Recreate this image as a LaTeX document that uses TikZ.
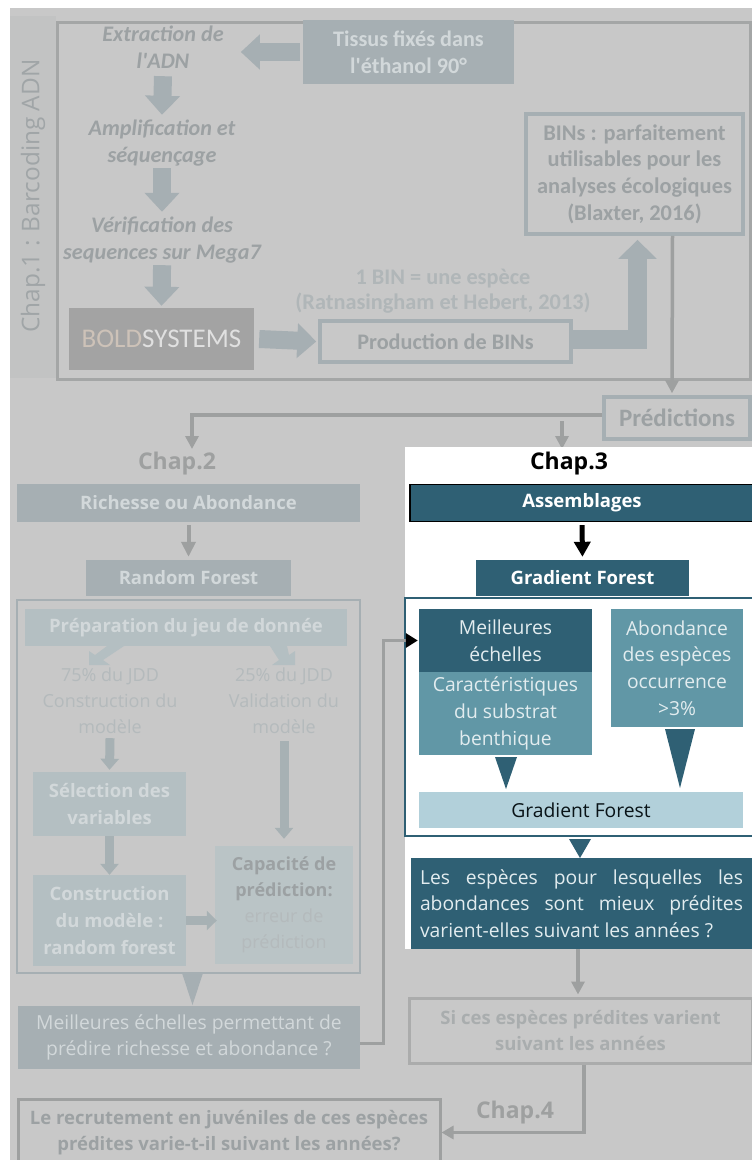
\documentclass[tikz,border=0pt]{standalone}
\usepackage{fontspec}
\setmainfont{Open Sans}
\newfontfamily\calibri{Carlito}
\usetikzlibrary{arrows.meta,positioning,calc}

\definecolor{pagegrey}{HTML}{C8C8C8}
\definecolor{sidegrey}{HTML}{C2C3C3}
\definecolor{slate}{HTML}{A6AFB3}
\definecolor{paleslate}{HTML}{B4BFC2}
\definecolor{palerslate}{HTML}{BAC4C6}
\definecolor{slatetext}{HTML}{D2D8DA}
\definecolor{fadetext}{HTML}{9CA1A3}
\definecolor{lighttext}{HTML}{B4BABC}
\definecolor{lineg}{HTML}{9EA0A0}
\definecolor{deepteal}{HTML}{2F6074}
\definecolor{midteal}{HTML}{6197A6}
\definecolor{lightteal}{HTML}{B2D0DA}
\definecolor{tealtext}{HTML}{E2ECEF}

\tikzset{
    tbox/.style={inner sep=0pt, align=center},
    upper/.style={font=\calibri\bfseries\fontsize{22.2}{26.6}\selectfont},
    upperit/.style={font=\calibri\bfseries\itshape\fontsize{22.2}{27}\selectfont, text=fadetext},
    lower/.style={font=\fontsize{19.3}{26.6}\selectfont},
    lowers/.style={font=\fontsize{18}{26}\selectfont},
    lowerb/.style={font=\bfseries\fontsize{18.5}{26.6}\selectfont},
    chaptitle/.style={font=\bfseries\fontsize{23}{26}\selectfont, inner sep=0pt},
    slatebox/.style={tbox, fill=slate, text=slatetext},
    palebox/.style={tbox, fill=paleslate, text=slatetext},
    rimbox/.style={tbox, draw=slate, line width=3.5pt, text=fadetext},
    tealbox/.style={tbox, fill=deepteal, text=tealtext},
    fatarrow/.style={-{Triangle[length=19pt,width=34pt]}, line width=18pt, draw=slate},
    midarrow/.style={-{Triangle[length=11pt,width=18pt]}, line width=9pt, draw=slate!90!paleslate},
    linearrow/.style={-{Triangle[length=13pt,width=13pt]}, line width=3.5pt, draw=lineg}
}

\begin{document}
\begin{tikzpicture}[x=1pt,y=-1pt]
    \useasboundingbox (0,0) rectangle (752,1160);
    % Page background
    \fill[white] (0,0) rectangle (752,1160);
    \fill[pagegrey] (10,8) rectangle (752,447);
    \fill[pagegrey] (10,447) rectangle (405,1160);
    \fill[pagegrey] (405,949) rectangle (752,1160);

    % Chap.1
    \node[tbox, fill=sidegrey, minimum width=46pt, minimum height=362pt] (chapun) at (33,197) {};
    \node[rotate=90, text=fadetext!90!pagegrey, font=\fontsize{24.4}{28}\selectfont, inner sep=0pt] (chapuntxt) at (33,196) {Chap.1 : Barcoding ADN};
    \node[tbox, draw=lineg!85!pagegrey, line width=3pt, minimum width=693pt, minimum height=357pt] (cadreun) at (403.5,200.5) {};

    \node[slatebox, upper, minimum width=211pt, minimum height=64pt] (tissus) at (408.5,52) {Tissus fixés dans\\l'éthanol 90°};
    \node[tbox, upperit, minimum width=180pt, minimum height=57pt] (extraction) at (163,47.5) {Extraction de\\l'ADN};
    \node[tbox, upperit, minimum width=180pt, minimum height=57pt] (amplif) at (162,143.5) {Amplification et\\séquençage};
    \node[tbox, upperit, minimum width=180pt, minimum height=57pt] (verif) at (162,240.5) {Vérification des\\sequences sur Mega7};
    \node[tbox, fill=black!36, minimum width=185pt, minimum height=62pt, font=\calibri\fontsize{27}{28}\selectfont] (bold) at (161.5,339) {\textcolor{orange!30!black!28}{BOLD}\textcolor{black!12}{SYSTEMS}};
    \node[rimbox, upper, minimum width=251pt, minimum height=41pt] (prod) at (445.5,341.5) {Production de BINs};
    \node[tbox, text=lighttext!85!fadetext, font=\calibri\bfseries\fontsize{22.3}{25}\selectfont] (bintxt) at (443,291.5) {1 BIN = une espèce\\(Ratnasingham et Hebert, 2013)};
    \node[rimbox, font=\calibri\bfseries\fontsize{22.4}{26.6}\selectfont, minimum width=217pt, minimum height=120pt] (bins) at (634.5,174) {BINs : parfaitement\\utilisables pour les\\analyses écologiques\\(Blaxter, 2016)};
    \node[rimbox, font=\calibri\bfseries\fontsize{25}{28}\selectfont, minimum width=146pt, minimum height=42pt] (pred) at (677,418) {Prédictions};

    % Fat arrows of Chap.1
    \draw[fatarrow, shorten <=3pt] (tissus.west) -- ($(tissus.west)+(-62,0)$);
    \draw[fatarrow] (extraction.south) -- (amplif.north);
    \draw[fatarrow, shorten <=-4pt] (amplif.south) -- (verif.north);
    \draw[fatarrow, shorten <=-4pt, shorten >=2pt] (verif.south) -- (bold.north);
    \draw[fatarrow] ([xshift=5pt]bold.east) -- ([xshift=-2pt]prod.west);
    \draw[fatarrow, line width=19pt, -{Triangle[length=19pt,width=37pt]}, shorten >=4pt] ([yshift=2pt]prod.east) -| ([xshift=3pt]bins.south);

    % Predictions lines
    \coordinate (chapdeuxin) at (192,449);
    \coordinate (chaptroisin) at (562,449);
    \coordinate (branch) at (562,421);
    \draw[linearrow, shorten >=2pt] ([xshift=38pt]bins.south) -- ([xshift=-5pt]pred.north);
    \draw[linearrow] ([yshift=3pt]pred.west) -| (chapdeuxin);
    \draw[linearrow] (branch) -- (chaptroisin);

    % Chap.2
    \node[chaptitle, text=lineg] (chapdeux) at (177,464) {Chap.2};
    \node[slatebox, lowerb, minimum width=343pt, minimum height=38pt] (richesse) at (188.5,503) {Richesse ou Abondance};
    \node[slatebox, lowerb, minimum width=205pt, minimum height=36pt] (random) at (188.5,578) {Random Forest};
    \node[tbox, draw=slate, line width=1.8pt, minimum width=343pt, minimum height=373pt] (cadredeux) at (188.5,786.5) {};
    \node[palebox, lowerb, minimum width=322pt, minimum height=37pt] (prepa) at (186,627.5) {Préparation du jeu de donnée};
    \node[tbox, lowers, text=lighttext, minimum width=150pt, minimum height=76pt] (construc) at (110,701) {75\% du JDD\\Construction du\\modèle};
    \node[tbox, lowers, text=lighttext, minimum width=130pt, minimum height=76pt] (valid) at (284,701) {25\% du JDD\\Validation du\\modèle};
    \node[palebox, lowerb, minimum width=153pt, minimum height=64pt] (selec) at (109.5,804) {Sélection des\\variables};
    \node[palebox, lowerb, minimum width=153pt, minimum height=91pt] (modele) at (109.5,920.5) {Construction\\du modèle :\\random forest};
    \node[tbox, fill=palerslate, lowers, text=lighttext, minimum width=138pt, minimum height=118pt] (capacite) at (284,905) {{\bfseries\color{fadetext}Capacité de}\\{\bfseries\color{fadetext}prédiction:}\\erreur de\\prédiction};
    \node[slatebox, lower, minimum width=342pt, minimum height=63pt] (meilleures) at (189,1037.5) {Meilleures échelles permettant de\\prédire richesse et abondance ?};

    \draw[linearrow, line width=4pt, -{Triangle[length=15pt,width=14pt]}, shorten <=3pt, shorten >=3pt] (richesse.south) -- (random.north);
    \draw[midarrow, shorten <=-1pt, shorten >=2pt] (construc.south) -- (selec.north);
    \draw[midarrow] (selec.south) -- (modele.north);
    \draw[midarrow, shorten <=2pt, shorten >=7pt] (valid.south) -- (capacite.north);
    \draw[midarrow, shorten >=-2pt, -{Triangle[length=10pt,width=19pt]}] (modele.east) -- (modele.east -| capacite.west);

    % Split arrows under the preparation box
    \fill[paleslate] (124,646) -- (107,646) -- (95,655) -- (89,651) -- (89,665) -- (110,665) -- (103,660) -- cycle;
    \fill[paleslate] (270,646) -- (287,646) -- (289,655) -- (295,651) -- (295,665) -- (272,665) -- (279,660) -- cycle;

    % Chap.3
    \fill[white] (405,447) rectangle (752,949);
    \node[chaptitle, text=black] (chaptrois) at (569,464) {Chap.3};
    \node[tealbox, lowerb, draw=black, line width=1.2pt, text=white, minimum width=344pt, minimum height=37pt] (assemblages) at (582,503) {Assemblages};
    \node[tealbox, lowerb, text=white, minimum width=213pt, minimum height=36pt] (gradient) at (582.5,578) {Gradient Forest};
    \node[tbox, draw=deepteal, line width=1.8pt, minimum width=352pt, minimum height=237.5pt] (cadretrois) at (581,717) {};
    \node[tealbox, lower, minimum width=173pt, minimum height=63.5pt] (echelles) at (505.5,640.5) {Meilleures\\échelles};
    \node[tbox, fill=midteal, text=tealtext, lower, minimum width=173pt, minimum height=82.5pt] (substrat) at (505.5,713.5) {Caractéristiques\\du substrat\\benthique};
    \node[tbox, fill=midteal, text=tealtext, lower, minimum width=132pt, minimum height=118pt] (abondance) at (677,668) {Abondance\\des espèces\\occurrence\\>3\%};
    \node[tbox, fill=lightteal, text=black!80!deepteal, lower, minimum width=324pt, minimum height=36pt] (gradlight) at (581,810) {Gradient Forest};
    \node[tealbox, lower, align=left, minimum width=341pt, minimum height=91pt] (especes) at (581.5,903.5) {\makebox[323pt][s]{Les espèces pour lesquelles les}\\\makebox[323pt][s]{abondances sont mieux prédites}\\\makebox[323pt][l]{varient-elles suivant les années ?}};
    \draw[-{Triangle[length=15pt,width=16pt]}, line width=5pt, black, shorten <=3pt, shorten >=3pt] (assemblages.south) -- (gradient.north);

    % Big triangles
    \foreach \xa/\xb/\ya/\yb/\col in {182/203/973/1005/slate, 495/517/757/789/deepteal, 665/695/729/788/deepteal, 569/591/839/858/deepteal} {
        \fill[\col] (\xa,\ya) -- (\xb,\ya) -- ({(\xa+\xb)/2},\yb) -- cycle;
    }

    % Bottom of the page
    \node[tbox, draw=lineg!70!pagegrey, line width=3pt, text=fadetext!70!pagegrey, lowerb, minimum width=343pt, minimum height=65pt] (sices) at (580.5,1030.5) {Si ces espèces prédites varient\\suivant les années};
    \node[tbox, draw=lineg, line width=3pt, text=fadetext, lowerb, minimum width=422pt, minimum height=67pt] (recrut) at (229,1132.5) {Le recrutement en juvéniles de ces espèces\\prédites varie-t-il suivant les années?};
    \node[chaptitle, text=lineg] (chapquatre) at (515,1113) {Chap.4};

    \draw[linearrow, shorten >=2pt] ([xshift=-3.5pt]especes.south) -- ([xshift=-2.5pt]sices.north);
    \draw[linearrow, -{Triangle[length=12pt,width=13pt]}] ([xshift=3.5pt]sices.south) |- (recrut.east);

    % Link from Chap.2 to Chap.3
    \coordinate (bend) at (383,640.5);
    \draw[line width=3pt, lineg, -{Triangle[length=12pt,width=14pt,color=black,fill=black]}, shorten >=1pt] ([yshift=-5.5pt]meilleures.east) -| (bend) -- (echelles.west);
\end{tikzpicture}
\end{document}
